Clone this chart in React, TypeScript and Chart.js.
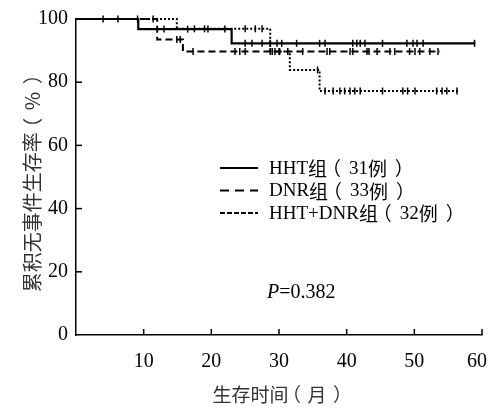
import React, { useEffect, useRef } from 'react';
import { Chart, registerables } from 'chart.js';

Chart.register(...registerables);

// ---- data ----
const xTickValues = [0, 10, 20, 30, 40, 50, 60];
const yTickValues = [0, 20, 40, 60, 80, 100];

const groupLabels = ['HHT组（31例）', 'DNR组（33例）', 'HHT+DNR组（32例）'];

// Kaplan-Meier step points (time in months, survival in %)
const hhtTimes = [0, 9.2, 23.0, 59.0];
const hhtSurv = [100, 96.8, 92.3, 92.3];
const hhtCensor = [4.0, 6.2, 13.0, 16.5, 19.5, 22.0, 25.0, 26.0, 27.5, 28.7, 29.7, 30.4, 32.6, 36.0, 36.8, 40.9, 41.5, 42.0, 42.7, 45.3, 48.9, 49.8, 50.4, 51.3, 58.9];

const dnrTimes = [0, 12.0, 15.8, 53.8];
const dnrSurv = [100, 93.5, 89.7, 89.7];
const dnrCensor = [9.1, 11.4, 14.9, 15.4, 17.3, 23.5, 24.2, 25.0, 28.7, 29.4, 30.1, 31.3, 33.5, 37.1, 37.5, 40.5, 40.9, 43.0, 43.3, 44.5, 46.4, 47.1, 49.3, 50.1, 50.8, 52.3, 53.5];

const comboTimes = [0, 14.9, 28.7, 31.6, 36.0, 56.7];
const comboSurv = [100, 96.9, 89.7, 83.9, 77.2, 77.2];
const comboCensor = [17.5, 19.0, 25.0, 26.5, 27.5, 29.0, 30.0, 35.7, 36.8, 38.0, 39.0, 39.7, 40.5, 41.2, 42.0, 45.3, 48.3, 49.0, 50.1, 53.3, 54.1, 54.8, 56.3];

const pValueText = '=0.382';
const xTitle = '生存时间（月）';
const yTitle = '累积无事件生存率（%）';

function stepAt(times: number[], surv: number[], t: number) {
  let v = surv[0];
  for (let i = 0; i < times.length; i++) if (times[i] <= t) v = surv[i];
  return v;
}

function curve(times: number[], surv: number[]) {
  return times.map((t, i) => ({ x: t, y: surv[i] }));
}

function censorPts(times: number[], surv: number[], c: number[]) {
  return c.map((t) => ({ x: t, y: stepAt(times, surv, t) }));
}

const dashes = [[], [7, 4], [2, 2]];
const legendDashes = [[], [9, 6], [5, 2]];

const serif = '"Liberation Serif", "Times New Roman", serif';
const cjk = '"Noto Sans CJK SC", "Noto Sans", sans-serif';

// mixed Latin / CJK text; full-width brackets get a cell of `bracketEm` ems with the visible glyph centred
function richWidth(ctx: CanvasRenderingContext2D, text: string, size: number, latinFont: string, bracketEm: number) {
  let w = 0;
  for (const ch of text) {
    if (ch === '（' || ch === '）') { w += size * bracketEm; continue; }
    const isAscii = ch.charCodeAt(0) < 128;
    ctx.font = `${size}px ${isAscii ? latinFont : cjk}`;
    w += ctx.measureText(ch).width;
  }
  return w;
}

function drawRich(ctx: CanvasRenderingContext2D, text: string, x: number, y: number, size: number, latinFont: string, bracketEm: number) {
  let cx = x;
  ctx.textAlign = 'left';
  for (const ch of text) {
    const isAscii = ch.charCodeAt(0) < 128;
    ctx.font = `${size}px ${isAscii ? latinFont : cjk}`;
    if (ch === '（' || ch === '）') {
      const cell = size * bracketEm;
      const m = ctx.measureText(ch);
      const visCenter = (m.actualBoundingBoxRight - m.actualBoundingBoxLeft) / 2;
      ctx.fillText(ch, cx + cell / 2 - visCenter, y);
      cx += cell;
    } else {
      ctx.fillText(ch, cx, y);
      cx += ctx.measureText(ch).width;
    }
  }
}

const overlayPlugin = {
  id: 'overlay',
  afterDraw(chart: any) {
    const { ctx, chartArea, scales, width } = chart;
    const xs = scales.x;
    const ys = scales.y;
    ctx.save();
    ctx.strokeStyle = '#000';
    ctx.lineWidth = 1.5;
    ctx.setLineDash([]);
    // inward tick marks
    xTickValues.forEach((v) => {
      if (v === 0) return;
      const px = xs.getPixelForValue(v);
      ctx.beginPath();
      ctx.moveTo(px, chartArea.bottom);
      ctx.lineTo(px, chartArea.bottom - 6);
      ctx.stroke();
    });
    yTickValues.forEach((v) => {
      if (v === 0) return;
      const py = ys.getPixelForValue(v);
      ctx.beginPath();
      ctx.moveTo(chartArea.left, py);
      ctx.lineTo(chartArea.left + 6, py);
      ctx.stroke();
    });

    // x tick labels (kept inside canvas)
    ctx.fillStyle = '#000';
    ctx.font = `20px ${serif}`;
    ctx.textAlign = 'center';
    ctx.textBaseline = 'middle';
    xTickValues.forEach((v) => {
      if (v === 0) return;
      const label = String(v);
      const w = ctx.measureText(label).width;
      let px = xs.getPixelForValue(v);
      px = Math.min(px, width - w / 2 - 2);
      ctx.fillText(label, px, chartArea.bottom + 27);
    });

    // axis titles
    ctx.fillStyle = '#333';
    ctx.textBaseline = 'middle';
    const xtw = richWidth(ctx, xTitle, 19, cjk, 1);
    drawRich(ctx, xTitle, (chartArea.left + chartArea.right) / 2 - xtw / 2, chartArea.bottom + 60, 19, cjk, 1);
    const ytw = richWidth(ctx, yTitle, 20, cjk, 1.1);
    ctx.save();
    ctx.translate(32, (chartArea.top + chartArea.bottom) / 2 + 4);
    ctx.rotate(-Math.PI / 2);
    drawRich(ctx, yTitle, -ytw / 2, 0, 20, cjk, 1.1);
    ctx.restore();

    // legend
    const lx = chartArea.left + 144;
    const ly0 = chartArea.top + 149;
    const gap = 22.5;
    ctx.fillStyle = '#000';
    ctx.textBaseline = 'middle';
    groupLabels.forEach((lab, i) => {
      const y = ly0 + i * gap;
      ctx.beginPath();
      ctx.lineWidth = 2;
      ctx.setLineDash(legendDashes[i]);
      ctx.moveTo(lx, y);
      ctx.lineTo(lx + 38, y);
      ctx.stroke();
      ctx.setLineDash([]);
      drawRich(ctx, lab, lx + 49, y + 1, 19, serif, 1.15);
    });

    // P value
    const px = lx + 47;
    const py = ys.getPixelForValue(13.5);
    ctx.textAlign = 'left';
    ctx.font = `italic 20px ${serif}`;
    ctx.fillText('P', px, py);
    const w = ctx.measureText('P').width;
    ctx.font = `20px ${serif}`;
    ctx.fillText(pValueText, px + w, py);
    ctx.restore();
  },
};

export default function App() {
  const ref = useRef<HTMLCanvasElement | null>(null);
  useEffect(() => {
    if (!ref.current) return;
    const groups = [
      [hhtTimes, hhtSurv, hhtCensor],
      [dnrTimes, dnrSurv, dnrCensor],
      [comboTimes, comboSurv, comboCensor],
    ] as number[][][];
    const datasets: any[] = [];
    groups.forEach(([t, s, c], i) => {
      datasets.push({
        label: groupLabels[i],
        data: curve(t, s),
        showLine: true,
        stepped: 'before',
        borderColor: '#000',
        borderWidth: i === 0 ? 2.2 : 2,
        borderDash: dashes[i],
        pointRadius: 0,
        fill: false,
        clip: false,
      });
      datasets.push({
        label: groupLabels[i] + ' censored',
        data: censorPts(t, s, c),
        showLine: false,
        pointStyle: 'line',
        rotation: 90,
        pointRadius: 3.5,
        pointBorderWidth: 1.5,
        borderColor: '#000',
        backgroundColor: '#000',
        clip: false,
      });
    });
    const chart = new Chart(ref.current, {
      type: 'scatter',
      data: { datasets },
      options: {
        animation: false,
        responsive: false,
        devicePixelRatio: 1,
        layout: { padding: { top: 19, right: 7, left: 0, bottom: 0 } },
        plugins: { legend: { display: false }, tooltip: { enabled: false } },
        scales: {
          x: {
            type: 'linear',
            min: 0,
            max: 60,
            afterBuildTicks: (s: any) => {
              s.ticks = xTickValues.map((v) => ({ value: v }));
            },
            afterFit: (s: any) => {
              s.height = 74;
              s.paddingLeft = 0;
              s.paddingRight = 0;
            },
            ticks: { display: false },
            grid: { drawOnChartArea: false, drawTicks: false },
            border: { display: true, color: '#000', width: 1.5 },
            title: { display: false, text: xTitle },
          },
          y: {
            type: 'linear',
            min: 0,
            max: 100,
            afterBuildTicks: (s: any) => {
              s.ticks = yTickValues.map((v) => ({ value: v }));
            },
            afterFit: (s: any) => {
              s.width = 76;
              s.paddingTop = 0;
              s.paddingBottom = 0;
            },
            ticks: {
              font: { family: serif, size: 20 },
              color: '#000',
              padding: 8,
              autoSkip: false,
            },
            grid: { drawOnChartArea: false, drawTicks: false },
            border: { display: true, color: '#000', width: 1.5 },
            title: { display: false, text: yTitle },
          },
        },
      },
      plugins: [overlayPlugin],
    });
    return () => chart.destroy();
  }, []);

  return (
    <div style={{ position: 'fixed', left: 0, top: 0, width: 489, height: 409, background: '#fff' }}>
      <canvas ref={ref} width={489} height={409} style={{ display: 'block', width: 489, height: 409 }} />
    </div>
  );
}
